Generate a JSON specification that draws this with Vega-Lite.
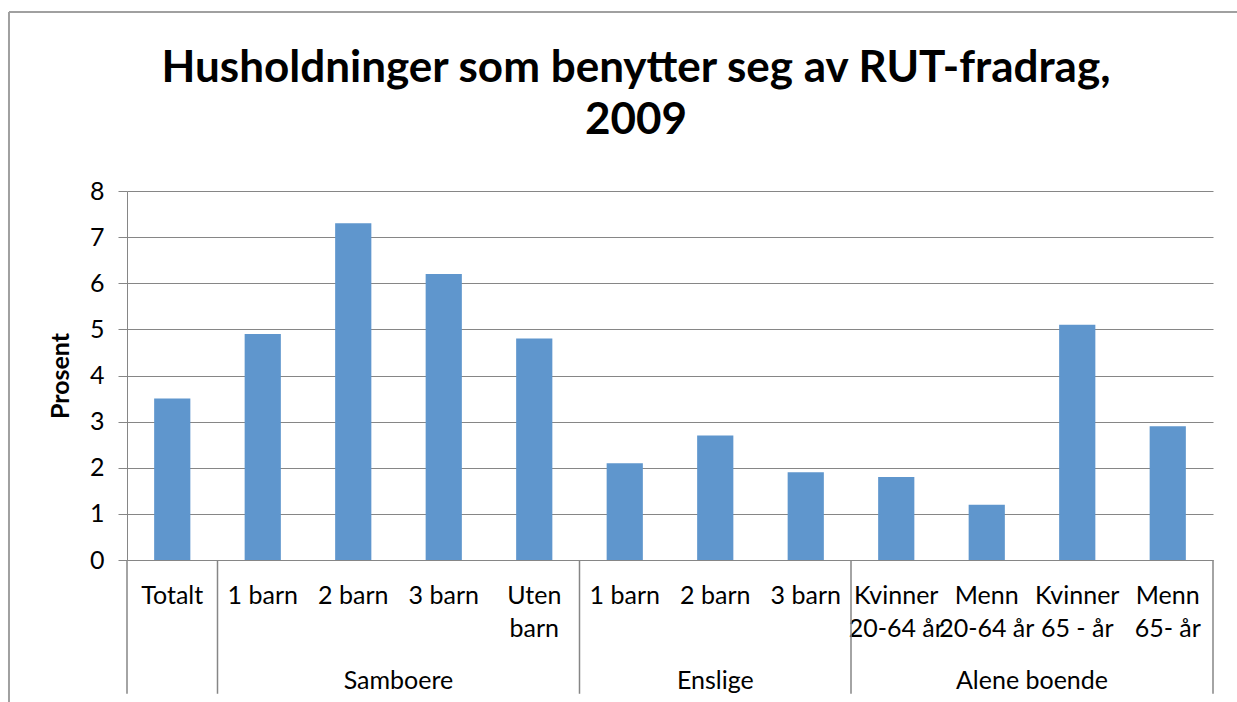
{
  "$schema": "https://vega.github.io/schema/vega-lite/v6.json",
  "autosize": {"type": "none"},
  "width": 1086,
  "height": 369,
  "padding": {"left": 127, "top": 191, "right": 24, "bottom": 142},
  "background": "white",
  "config": {"view": {"stroke": null}, "font": "Lato"},
  "title": {
    "text": ["Husholdninger som benytter seg av RUT-fradrag,", "2009"],
    "font": "Lato",
    "fontSize": 44,
    "fontWeight": "bold",
    "color": "black",
    "anchor": "middle",
    "dx": -34,
    "offset": -132,
    "lineHeight": 52
  },
  "datasets": {
    "bars": [
      {"id": "00", "label": "Totalt", "group": "Totalt", "value": 3.5},
      {"id": "01", "label": "1 barn", "group": "Samboere", "value": 4.9},
      {"id": "02", "label": "2 barn", "group": "Samboere", "value": 7.3},
      {"id": "03", "label": "3 barn", "group": "Samboere", "value": 6.2},
      {"id": "04", "label": "Uten\nbarn", "group": "Samboere", "value": 4.8},
      {"id": "05", "label": "1 barn", "group": "Enslige", "value": 2.1},
      {"id": "06", "label": "2 barn", "group": "Enslige", "value": 2.7},
      {"id": "07", "label": "3 barn", "group": "Enslige", "value": 1.9},
      {"id": "08", "label": "Kvinner\n20-64 år", "group": "Alene boende", "value": 1.8},
      {"id": "09", "label": "Menn\n20-64 år", "group": "Alene boende", "value": 1.2},
      {"id": "10", "label": "Kvinner\n65 - år", "group": "Alene boende", "value": 5.1},
      {"id": "11", "label": "Menn\n65- år", "group": "Alene boende", "value": 2.9}
    ],
    "groups": [
      {"group": "Samboere", "anchorId": "02", "even": true},
      {"group": "Enslige", "anchorId": "06", "even": false},
      {"group": "Alene boende", "anchorId": "09", "even": true}
    ]
  },
  "layer": [
    {
      "data": {"name": "bars"},
      "mark": {"type": "bar", "color": "#5f96cd", "width": {"band": 0.4}},
      "encoding": {
        "x": {"field": "id", "type": "nominal", "sort": null,
              "scale": {"paddingInner": 0, "paddingOuter": 0}, "axis": null},
        "y": {"field": "value", "type": "quantitative",
              "scale": {"domain": [0, 8], "nice": false},
              "axis": {
                "title": "Prosent",
                "titleFont": "Lato",
                "titleFontSize": 25,
                "titleFontWeight": "bold",
                "titleColor": "black",
                "titlePadding": 16,
                "values": [0, 1, 2, 3, 4, 5, 6, 7, 8],
                "labelOverlap": false,
                "labelFlush": false,
                "labelFont": "Lato",
                "labelFontSize": 25,
                "labelColor": "black",
                "labelPadding": 14,
                "tickSize": 9,
                "tickColor": "#868686",
                "domainColor": "#868686",
                "gridColor": "#868686",
                "grid": true
              }}
      }
    },
    {
      "data": {"name": "bars"},
      "mark": {"type": "text", "fontSize": 25, "font": "Lato", "color": "black",
               "baseline": "alphabetic", "dy": 44, "lineBreak": "\n", "lineHeight": 33},
      "encoding": {
        "x": {"field": "id", "type": "nominal", "sort": null},
        "y": {"datum": 0, "type": "quantitative"},
        "text": {"field": "label"}
      }
    },
    {
      "data": {"name": "groups"},
      "transform": [{"filter": "datum.even"}],
      "mark": {"type": "text", "fontSize": 25, "font": "Lato", "color": "black",
               "baseline": "alphabetic", "dy": 129},
      "encoding": {
        "x": {"field": "anchorId", "type": "nominal", "bandPosition": 1},
        "y": {"datum": 0, "type": "quantitative"},
        "text": {"field": "group"}
      }
    },
    {
      "data": {"name": "groups"},
      "transform": [{"filter": "!datum.even"}],
      "mark": {"type": "text", "fontSize": 25, "font": "Lato", "color": "black",
               "baseline": "alphabetic", "dy": 129},
      "encoding": {
        "x": {"field": "anchorId", "type": "nominal", "bandPosition": 0.5},
        "y": {"datum": 0, "type": "quantitative"},
        "text": {"field": "group"}
      }
    },
    {
      "data": {"name": "bars"},
      "transform": [{"filter": "datum.id == '00' || datum.id == '01' || datum.id == '05' || datum.id == '08'"}],
      "mark": {"type": "rule", "color": "#868686", "strokeWidth": 1.5, "clip": false},
      "encoding": {
        "x": {"field": "id", "type": "nominal", "bandPosition": 0},
        "y": {"datum": 0, "type": "quantitative"},
        "y2": {"datum": -2.9}
      }
    },
    {
      "data": {"name": "bars"},
      "transform": [{"filter": "datum.id == '11'"}],
      "mark": {"type": "rule", "color": "#868686", "strokeWidth": 1.5, "clip": false},
      "encoding": {
        "x": {"field": "id", "type": "nominal", "bandPosition": 1},
        "y": {"datum": 0, "type": "quantitative"},
        "y2": {"datum": -2.9}
      }
    },
    {
      "data": {"name": "bars"},
      "transform": [{"filter": "datum.id == '00'"}],
      "mark": {"type": "rule", "color": "#a0a0a0", "strokeWidth": 2, "clip": false},
      "encoding": {
        "x": {"field": "id", "type": "nominal", "bandPosition": -1.304},
        "y": {"datum": 11.88, "type": "quantitative"},
        "y2": {"datum": -3.5}
      }
    },
    {
      "data": {"name": "bars"},
      "transform": [{"filter": "datum.id == '00'"}],
      "mark": {"type": "rule", "color": "#a0a0a0", "strokeWidth": 2, "clip": false},
      "encoding": {
        "x": {"field": "id", "type": "nominal", "bandPosition": -1.304},
        "x2": {"datum": "11", "bandPosition": 1.3},
        "y": {"datum": 11.88, "type": "quantitative"}
      }
    }
  ]
}
